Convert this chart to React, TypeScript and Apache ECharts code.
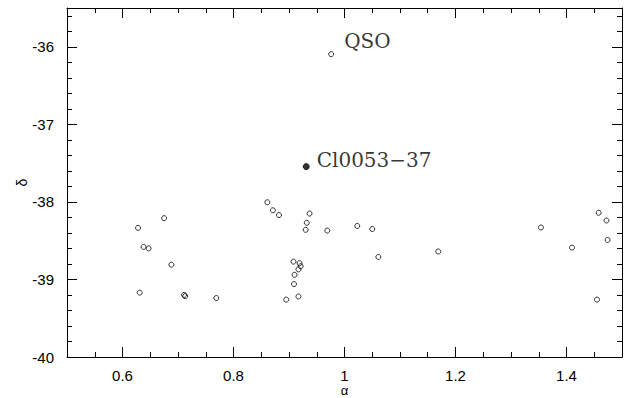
import React, { useEffect, useRef } from "react";
import * as echarts from "echarts";

// Field objects (open circles): right ascension offset (alpha) and declination (delta)
const fieldAlpha = [
  0.861, 0.871, 0.882, 0.675, 0.628, 0.638, 0.647, 0.688, 0.631, 0.711, 0.713, 0.769,
  0.895, 0.908, 0.937, 0.932, 0.930, 0.969, 1.023, 1.050, 1.061, 1.169, 0.919, 0.921,
  0.917, 0.910, 0.909, 0.917, 1.458, 1.472, 1.354, 1.474, 1.410, 1.455,
];
const fieldDelta = [
  -38.005, -38.108, -38.17, -38.21, -38.335, -38.58, -38.6, -38.81, -39.17, -39.2, -39.215, -39.24,
  -39.26, -38.77, -38.15, -38.27, -38.36, -38.37, -38.31, -38.35, -38.71, -38.64, -38.79, -38.83,
  -38.87, -38.94, -39.06, -39.22, -38.14, -38.24, -38.33, -38.49, -38.59, -39.26,
];

// Named objects
const namedLabels = ["QSO", "Cl0053\u221237"];
const namedAlpha = [0.976, 0.931];
const namedDelta = [-36.095, -37.545];
const namedFilled = [false, true];

// Axis ticks
const xMajorTicks = [0.6, 0.8, 1, 1.2, 1.4];
const yMajorTicks = [-40, -39, -38, -37, -36];
const xRange = [0.5, 1.5];
const yRange = [-40, -35.5];
const xMinorStep = 0.05;
const yMinorStep = 0.2;

function minorValues(lo: number, hi: number, step: number, majors: number[]) {
  const out: number[] = [];
  const n = Math.round((hi - lo) / step);
  for (let i = 0; i <= n; i++) {
    const v = Math.round((lo + i * step) * 1000) / 1000;
    if (!majors.some((m) => Math.abs(m - v) < 1e-6)) out.push(v);
  }
  return out;
}

const SANS = "'Liberation Sans', Arial, Helvetica, sans-serif";

export default function App() {
  const ref = useRef<HTMLDivElement>(null);
  useEffect(() => {
    document.body.style.margin = "0";
    if (!ref.current) return;
    const chart = echarts.init(ref.current, null, { renderer: "svg" });
    const xMinor = minorValues(xRange[0], xRange[1], xMinorStep, xMajorTicks);
    const yMinor = minorValues(yRange[0], yRange[1], yMinorStep, yMajorTicks);
    const lineStyle = { color: "#000", width: 1 };
    const labelFont = { color: "#000", fontSize: 15, fontFamily: SANS };

    const xAxisBase = (position: string, major: boolean, withLabel: boolean, withName: boolean) => ({
      type: "value",
      min: xRange[0],
      max: xRange[1],
      position,
      name: withName ? "\u03b1" : "",
      nameLocation: "middle",
      nameGap: 28,
      nameMoveOverlap: false,
      nameTextStyle: { color: "#000", fontSize: 13, lineHeight: 10, fontFamily: SANS },
      axisLine: { show: major, lineStyle, onZero: false },
      axisTick: {
        show: true,
        inside: true,
        length: major ? 10 : 5,
        lineStyle,
        customValues: major ? xMajorTicks : xMinor,
      },
      axisLabel: withLabel
        ? { show: true, margin: 11, ...labelFont, customValues: xMajorTicks }
        : { show: false },
      splitLine: { show: false },
      minorTick: { show: false },
    });
    const yAxisBase = (position: string, major: boolean, withLabel: boolean, withName: boolean) => ({
      type: "value",
      min: yRange[0],
      max: yRange[1],
      position,
      name: withName ? "\u03b4" : "",
      nameLocation: "middle",
      nameGap: 38,
      nameMoveOverlap: false,
      nameTextStyle: { color: "#000", fontSize: 14, fontFamily: SANS },
      axisLine: { show: major, lineStyle, onZero: false },
      axisTick: {
        show: true,
        inside: true,
        length: major ? 10 : 5,
        lineStyle,
        customValues: major ? yMajorTicks : yMinor,
      },
      axisLabel: withLabel
        ? { show: true, margin: 13, ...labelFont, customValues: yMajorTicks }
        : { show: false },
      splitLine: { show: false },
      minorTick: { show: false },
    });

    const fieldData = fieldAlpha.map((a, i) => [a, fieldDelta[i]]);
    const namedData = namedAlpha.map((a, i) => ({
      value: [a, namedDelta[i]],
      name: namedLabels[i],
      symbolSize: namedFilled[i] ? 6 : 5,
      itemStyle: namedFilled[i]
        ? { color: "#000", borderColor: "#000", borderWidth: 1 }
        : { color: "rgba(0,0,0,0)", borderColor: "#000", borderWidth: 1 },
      label: namedFilled[i]
        ? { distance: 7, offset: [0, -7] }
        : { distance: 10, offset: [0, -13] },
    }));

    chart.setOption({
      animation: false,
      backgroundColor: "#fff",
      grid: {
        left: 67,
        right: 14,
        top: 8,
        bottom: 41,
        containLabel: false,
        outerBoundsMode: "none",
      },
      xAxis: [
        xAxisBase("bottom", true, true, true),
        xAxisBase("bottom", false, false, false),
        xAxisBase("top", true, false, false),
        xAxisBase("top", false, false, false),
      ],
      yAxis: [
        yAxisBase("left", true, true, true),
        yAxisBase("left", false, false, false),
        yAxisBase("right", true, false, false),
        yAxisBase("right", false, false, false),
      ],
      series: [
        {
          type: "scatter",
          xAxisIndex: 0,
          yAxisIndex: 0,
          data: fieldData,
          symbol: "circle",
          symbolSize: 5,
          itemStyle: { color: "rgba(0,0,0,0)", borderColor: "#000", borderWidth: 1 },
          emphasis: { disabled: true },
        },
        {
          type: "scatter",
          xAxisIndex: 0,
          yAxisIndex: 0,
          data: namedData,
          symbol: "circle",
          label: {
            show: true,
            position: "right",
            formatter: "{b}",
            color: "#000",
            fontSize: 20,
            fontFamily: "'DejaVu Serif', serif",
          },
          emphasis: { disabled: true },
        },
      ],
    });
    return () => chart.dispose();
  }, []);
  return <div ref={ref} style={{ width: 636, height: 398 }} />;
}
